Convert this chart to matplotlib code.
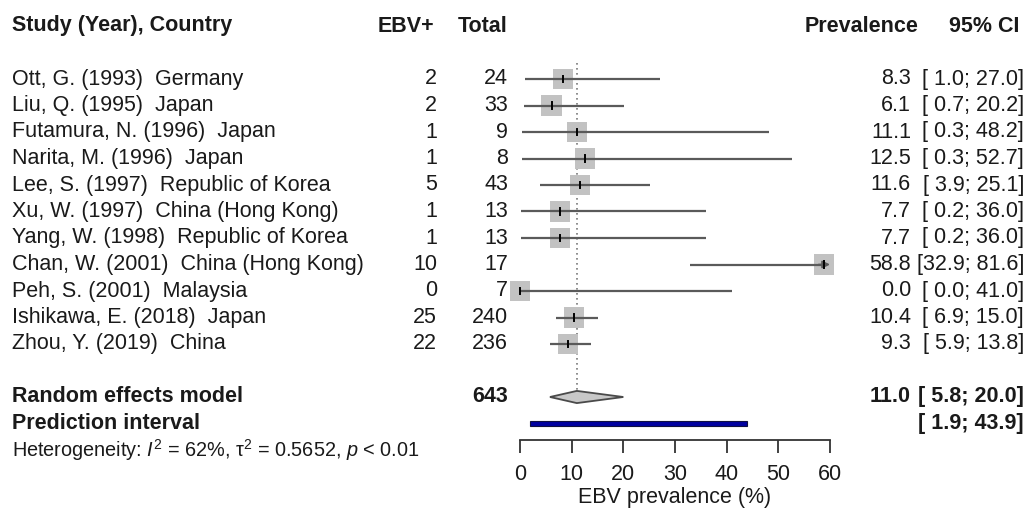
import matplotlib
matplotlib.use("Agg")
import matplotlib.pyplot as plt
from matplotlib.patches import Polygon, Rectangle
from matplotlib.transforms import blended_transform_factory

plt.rcParams['font.family'] = ['Liberation Sans', 'DejaVu Sans']
plt.rcParams['mathtext.fontset'] = 'custom'
plt.rcParams['mathtext.rm'] = 'Liberation Sans'
plt.rcParams['mathtext.it'] = 'Liberation Sans:italic'

# data
studies = ["Ott, G. (1993)  Germany", "Liu, Q. (1995)  Japan",
           "Futamura, N. (1996)  Japan", "Narita, M. (1996)  Japan",
           "Lee, S. (1997)  Republic of Korea", "Xu, W. (1997)  China (Hong Kong)",
           "Yang, W. (1998)  Republic of Korea", "Chan, W. (2001)  China (Hong Kong)",
           "Peh, S. (2001)  Malaysia", "Ishikawa, E. (2018)  Japan",
           "Zhou, Y. (2019)  China"]
events = [2, 2, 1, 1, 5, 1, 1, 10, 0, 25, 22]
totals = [24, 33, 9, 8, 43, 13, 13, 17, 7, 240, 236]
prev = [8.3, 6.1, 11.1, 12.5, 11.6, 7.7, 7.7, 58.8, 0.0, 10.4, 9.3]
lower = [1.0, 0.7, 0.3, 0.3, 3.9, 0.2, 0.2, 32.9, 0.0, 6.9, 5.9]
upper = [27.0, 20.2, 48.2, 52.7, 25.1, 36.0, 36.0, 81.6, 41.0, 15.0, 13.8]
re_est, re_lo, re_hi = 11.0, 5.8, 20.0
re_total = 643
pi_lo, pi_hi = 1.9, 43.9
xticks = [0, 10, 20, 30, 40, 50, 60]

W, H = 1033, 516
fig = plt.figure(figsize=(W / 100, H / 100), dpi=100)
x0, x1 = 520, 830
ax = fig.add_axes([x0 / W, 0, (x1 - x0) / W, 1])
xmin, xmax = 0, 60
ax.set_xlim(xmin, xmax)
# rows: y pixel = 79 + row * 26.5
r0, dr = 79, 26.5
ax.set_ylim((H - r0) / dr, -r0 / dr)
ax.set_facecolor('none')
for s in ['top', 'left', 'right']:
    ax.spines[s].set_visible(False)
ax.set_yticks([])

fs = 15.5
tcol = '#1a1a1a'
tf = blended_transform_factory(fig.transFigure, ax.transData)

def fx(px):
    return px / W

# headers
hy = -2
ax.text(fx(12), hy, "Study (Year), Country", transform=tf, fontsize=fs, fontweight='bold', va='center', ha='left', color=tcol)
ax.text(fx(434), hy, "EBV+", transform=tf, fontsize=fs, fontweight='bold', va='center', ha='right', color=tcol)
ax.text(fx(508), hy, "Total", transform=tf, fontsize=fs, fontweight='bold', va='center', ha='right', color=tcol)
ax.text(fx(919), hy, "Prevalence", transform=tf, fontsize=fs, fontweight='bold', va='center', ha='right', color=tcol)
ax.text(fx(1019), hy, "95% CI", transform=tf, fontsize=fs, fontweight='bold', va='center', ha='right', color=tcol)

rows = list(range(len(studies)))
wcol = '#5a5a5a'
for i in rows:
    ax.text(fx(12), i, studies[i], transform=tf, fontsize=fs, va='center', ha='left', color=tcol)
    ax.text(fx(437), i, str(events[i]), transform=tf, fontsize=fs, va='center', ha='right', color=tcol)
    ax.text(fx(508), i, str(totals[i]), transform=tf, fontsize=fs, va='center', ha='right', color=tcol)
    ax.text(fx(911), i, f"{prev[i]:.1f}", transform=tf, fontsize=fs, va='center', ha='right', color=tcol)
    ax.text(fx(1024), i, f"[{lower[i]:4.1f}; {upper[i]:4.1f}]", transform=tf, fontsize=fs, va='center', ha='right', color=tcol)

# squares
ax.scatter(prev, rows, marker='s', s=210, color='#c2c2c2', edgecolors='none', zorder=2, clip_on=False)
# whiskers
for i in rows:
    if upper[i] > xmax:
        ax.plot([lower[i], xmax - 0.6], [i, i], color=wcol, lw=1.6, zorder=3, solid_capstyle='butt')
        ax.annotate("", xy=(xmax, i), xytext=(xmax - 2.2, i),
                    arrowprops=dict(arrowstyle='-|>', color=wcol, lw=1.2, mutation_scale=11,
                                    shrinkA=0, shrinkB=0), zorder=3)
    else:
        ax.plot([lower[i], upper[i]], [i, i], color=wcol, lw=1.6, zorder=3, solid_capstyle='butt')
    ax.plot([prev[i], prev[i]], [i - 0.13, i + 0.13], color='black', lw=1.4, zorder=4, clip_on=False)

# random effects model
ry = 12
ax.text(fx(12), ry, "Random effects model", transform=tf, fontsize=fs, fontweight='bold', va='center', ha='left', color=tcol)
ax.text(fx(508), ry, str(re_total), transform=tf, fontsize=fs, fontweight='bold', va='center', ha='right', color=tcol)
ax.text(fx(911), ry, f"{re_est:.1f}", transform=tf, fontsize=fs, fontweight='bold', va='center', ha='right', color=tcol)
ax.text(fx(1024), ry, f"[{re_lo:4.1f}; {re_hi:4.1f}]", transform=tf, fontsize=fs, fontweight='bold', va='center', ha='right', color=tcol)
dh = 0.23
ax.add_patch(Polygon([[re_lo, ry], [re_est, ry - dh], [re_hi, ry], [re_est, ry + dh]],
                     closed=True, facecolor='#c8c8c8', edgecolor='#4a4a4a', lw=1.3, zorder=3))

# dotted line at pooled estimate
ax.plot([re_est, re_est], [-0.6, ry + dh], color='#7a7a7a', lw=1.2, ls=(0, (1, 2)), zorder=1)

# prediction interval
py = 13
ax.text(fx(12), py, "Prediction interval", transform=tf, fontsize=fs, fontweight='bold', va='center', ha='left', color=tcol)
ax.text(fx(1024), py, f"[{pi_lo:4.1f}; {pi_hi:4.1f}]", transform=tf, fontsize=fs, fontweight='bold', va='center', ha='right', color=tcol)
ax.add_patch(Rectangle((pi_lo, py - 0.1), pi_hi - pi_lo, 0.2, facecolor='#0000a0', edgecolor='#101040', lw=0.8, zorder=3))

# heterogeneity
ax.text(fx(12), 14, r"Heterogeneity: $I^2$ = 62%, τ$^2$ = 0.5652, $p$ < 0.01", transform=tf,
        fontsize=14.3, va='center', ha='left', color=tcol)

# x axis
ax.spines['bottom'].set_position(('data', (440 - r0) / dr))
ax.spines['bottom'].set_bounds(xmin, xmax)
ax.spines['bottom'].set_color('#333333')
ax.spines['bottom'].set_linewidth(1.3)
ax.set_xticks(xticks)
ax.tick_params(axis='x', direction='out', length=9, width=1.3, color='#333333',
               labelsize=fs, labelcolor=tcol, pad=8)
ax.text((xmin + xmax) / 2, (498 - r0) / dr, "EBV prevalence (%)", fontsize=fs, ha='center', va='center', color=tcol)

fig.savefig("out.png", dpi=100)
